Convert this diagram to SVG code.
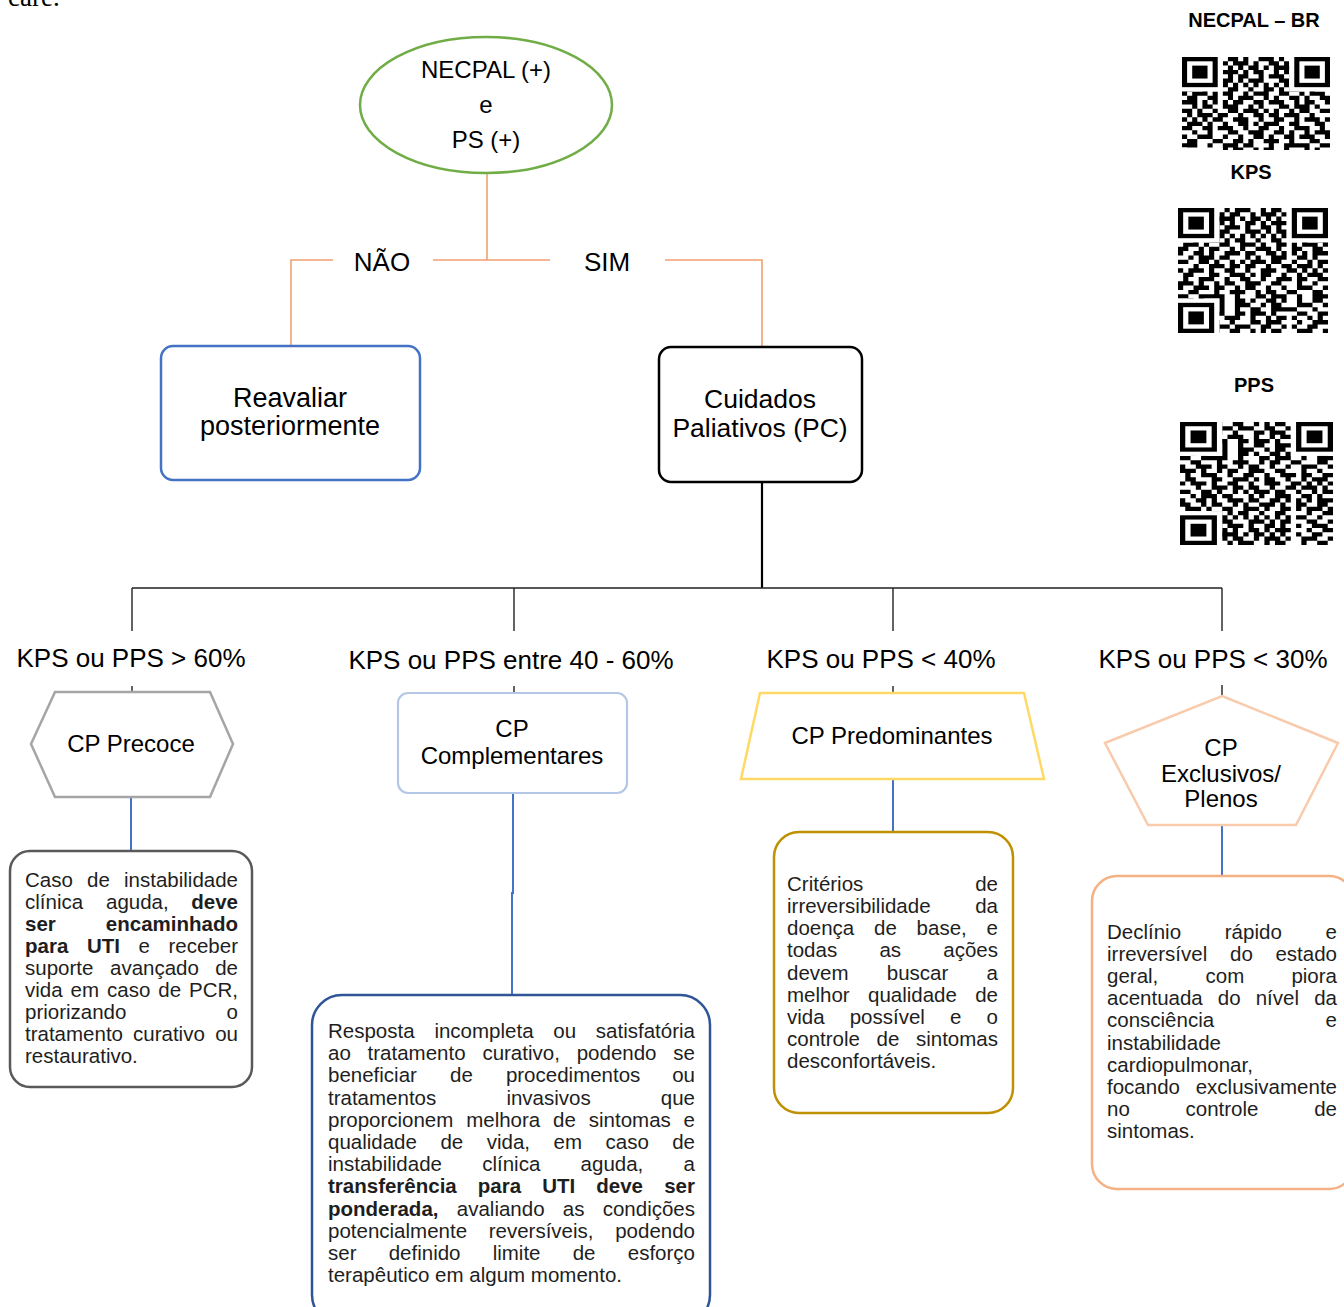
<svg xmlns="http://www.w3.org/2000/svg" xmlns:xlink="http://www.w3.org/1999/xlink" width="1344" height="1307" viewBox="0 0 1344 1307">
<style>
.t{font-family:"Liberation Sans",Arial,sans-serif;fill:#000}
.lbl{font-size:26px;text-anchor:middle}
.nd{font-size:24px;text-anchor:middle}
.big{font-size:27px;text-anchor:middle}
.qt{font-size:20px;font-weight:bold;text-anchor:middle}
.body{font-size:20.5px;fill:#1e1e1e}
.b{font-weight:bold}
.e{text-anchor:end}
.or{fill:none;stroke:#f2a070;stroke-width:1.6}
.bl{fill:none;stroke:#4472c4;stroke-width:2}
.bk{fill:none;stroke:#222;stroke-width:1.4}
</style>
<defs>
<g id="qrd"><path fill="none" stroke="#000" stroke-width="1" d="M9 .5h2M12 .5h1M15 .5h3M19 .5h1M1 .5h2M5 .5h1M22 .5h2M26 .5h2
M8 1.5h1M10 1.5h3M14 1.5h1M17 1.5h2M20 1.5h1M0 1.5h1M3 1.5h3M23 1.5h1M25 1.5h3
M9 2.5h1M11 2.5h1M13 2.5h2M16 2.5h1M18 2.5h3M2 2.5h2M6 2.5h1M21 2.5h3M27 2.5h1
M8 3.5h3M12 3.5h1M14 3.5h2M18 3.5h1M20 3.5h1M0 3.5h2M4 3.5h1M22 3.5h1M24 3.5h2M28 3.5h1
M9 4.5h1M11 4.5h2M15 4.5h1M17 4.5h3M1 4.5h3M6 4.5h1M21 4.5h1M23 4.5h3
M8 5.5h2M11 5.5h1M13 5.5h3M19 5.5h2M0 5.5h1M3 5.5h2M22 5.5h2M26 5.5h1
M8 6.5h1M10 6.5h1M12 6.5h1M14 6.5h1M16 6.5h1M18 6.5h1M20 6.5h1M2 6.5h1M5 6.5h2M24 6.5h2M28 6.5h1
M9 7.5h2M13 7.5h1M16 7.5h2M19 7.5h1M0 7.5h2M4 7.5h1M21 7.5h2M25 7.5h1
M0 8.5h1M2 8.5h3M6 8.5h1M8 8.5h2M12 8.5h1M14 8.5h3M19 8.5h2M23 8.5h1M25 8.5h3
M1 9.5h2M5 9.5h2M9 9.5h1M11 9.5h3M16 9.5h1M18 9.5h1M21 9.5h2M24 9.5h1M27 9.5h2
M0 10.5h3M4 10.5h1M6 10.5h1M8 10.5h1M10 10.5h2M14 10.5h2M17 10.5h3M22 10.5h1M24 10.5h2M28 10.5h1
M2 11.5h1M4 11.5h2M8 11.5h3M13 11.5h1M15 11.5h1M19 11.5h2M22 11.5h3M26 11.5h1
M0 12.5h2M3 12.5h1M6 12.5h1M9 12.5h2M12 12.5h3M16 12.5h1M18 12.5h1M21 12.5h1M23 12.5h2M27 12.5h2
M1 13.5h1M3 13.5h3M7 13.5h2M11 13.5h1M14 13.5h2M17 13.5h2M20 13.5h3M25 13.5h1
M0 14.5h1M2 14.5h1M4 14.5h1M6 14.5h2M10 14.5h3M15 14.5h1M18 14.5h2M22 14.5h1M24 14.5h3M28 14.5h1
M1 15.5h3M5 15.5h1M8 15.5h1M11 15.5h2M14 15.5h1M16 15.5h3M21 15.5h2M26 15.5h2
M0 16.5h2M4 16.5h2M7 16.5h3M12 16.5h1M15 16.5h2M19 16.5h1M22 16.5h3M27 16.5h1
M2 17.5h1M5 17.5h1M9 17.5h2M13 17.5h3M18 17.5h2M21 17.5h1M24 17.5h1M26 17.5h3
M0 18.5h1M3 18.5h3M8 18.5h1M11 18.5h1M14 18.5h2M17 18.5h1M20 18.5h2M23 18.5h3M28 18.5h1
M1 19.5h2M6 19.5h2M10 19.5h2M13 19.5h1M16 19.5h3M21 19.5h1M25 19.5h2
M0 20.5h3M5 20.5h1M8 20.5h3M12 20.5h2M17 20.5h1M20 20.5h5M27 20.5h2
M8 21.5h1M10 21.5h2M14 21.5h1M16 21.5h2M20 21.5h1M24 21.5h1M26 21.5h1M1 21.5h2M5 21.5h1
M9 22.5h2M12 22.5h1M15 22.5h3M20 22.5h1M22 22.5h1M24 22.5h1M27 22.5h2M0 22.5h1M3 22.5h3
M8 23.5h3M13 23.5h2M17 23.5h1M20 23.5h1M24 23.5h1M26 23.5h1M2 23.5h1M6 23.5h2
M10 24.5h1M12 24.5h3M16 24.5h2M20 24.5h5M27 24.5h1M0 24.5h2M4 24.5h2
M8 25.5h2M11 25.5h1M14 25.5h1M17 25.5h3M22 25.5h2M25 25.5h3M1 25.5h1M3 25.5h1M6 25.5h1
M9 26.5h3M13 26.5h2M18 26.5h1M21 26.5h1M24 26.5h1M28 26.5h1M0 26.5h3M5 26.5h1
M8 27.5h1M11 27.5h2M15 27.5h3M19 27.5h2M23 27.5h3M2 27.5h2M6 27.5h1
M9 28.5h2M12 28.5h1M14 28.5h1M17 28.5h2M21 28.5h1M24 28.5h2M27 28.5h2M0 28.5h1M3 28.5h3"/></g>
<g id="qrf">
<rect x="0" y="0" width="8" height="8" fill="#fff"/><rect x="21" y="0" width="8" height="8" fill="#fff"/><rect x="0" y="21" width="8" height="8" fill="#fff"/>
<g fill="none" stroke="#000" stroke-width="1"><rect x=".5" y=".5" width="6" height="6"/><rect x="22.5" y=".5" width="6" height="6"/><rect x=".5" y="22.5" width="6" height="6"/></g>
<rect x="2" y="2" width="3" height="3"/><rect x="24" y="2" width="3" height="3"/><rect x="2" y="24" width="3" height="3"/>
</g>
</defs>
<rect width="1344" height="1307" fill="#fff"/>
<text x="8" y="6" font-family="Liberation Serif,Times New Roman,serif" font-size="27" fill="#000">care.</text>

<g id="qr-codes">
<text class="t qt" x="1254" y="27">NECPAL – BR</text>
<svg x="1182" y="57" width="148" height="93" viewBox="0 0 29 21.58" preserveAspectRatio="none"><use href="#qrd"/><use href="#qrf"/></svg>
<text class="t qt" x="1251" y="179">KPS</text>
<svg x="1178" y="208" width="150" height="125" viewBox="0 0 29 29" preserveAspectRatio="none"><use href="#qrd" transform="translate(29 0) scale(-1 1)"/><use href="#qrf"/></svg>
<text class="t qt" x="1254" y="392">PPS</text>
<svg x="1180" y="422" width="153" height="123" viewBox="0 0 29 29" preserveAspectRatio="none"><use href="#qrd" transform="rotate(180 14.5 14.5)"/><use href="#qrf"/></svg>
</g>

<g id="connectors">
<path class="or" d="M487 173V260M433 260H550M665 260H762V347M333 260H291V345"/>
<path d="M762 482V588" stroke="#000" stroke-width="2.2" fill="none"/>
<path class="bk" d="M132 588H1222M132 588V631M514 588V631M893 588V631M1222 588V631M132 686V692M514 686V692M893 686V692M1222 685V697"/>
<path class="bl" d="M131 797V851M513 793V893H512V995M893 779V832M1222 825V877"/>
<text class="t lbl" x="382" y="271">NÃO</text>
<text class="t lbl" x="607" y="271">SIM</text>
<text class="t lbl" x="131" y="667">KPS ou PPS &gt; 60%</text>
<text class="t lbl" x="511" y="669">KPS ou PPS entre 40 - 60%</text>
<text class="t lbl" x="881" y="668">KPS ou PPS &lt; 40%</text>
<text class="t lbl" x="1213" y="668">KPS ou PPS &lt; 30%</text>
</g>

<g id="node-necpal">
<ellipse cx="486" cy="105" rx="126" ry="68" fill="#fff" stroke="#70ad47" stroke-width="2.5"/>
<text class="t nd" x="486" y="78">NECPAL (+)</text>
<text class="t nd" x="486" y="113">e</text>
<text class="t nd" x="486" y="148">PS (+)</text>
</g>

<g id="node-reavaliar">
<rect x="161" y="346" width="259" height="134" rx="12" fill="#fff" stroke="#4472c4" stroke-width="2.5"/>
<text class="t big" x="290" y="407">Reavaliar</text>
<text class="t big" x="290" y="435">posteriormente</text>
</g>

<g id="node-cuidados">
<rect x="659" y="347" width="203" height="135" rx="12" fill="#fff" stroke="#000" stroke-width="2.5"/>
<text class="t big" x="760" y="408" style="font-size:26.5px">Cuidados</text>
<text class="t big" x="760" y="437" style="font-size:26.5px">Paliativos (PC)</text>
</g>

<g id="node-precoce">
<polygon points="31,744 55,692 210,692 233,744 210,797 55,797" fill="#fff" stroke="#a5a5a5" stroke-width="2.5"/>
<text class="t nd" x="131" y="752">CP Precoce</text>
</g>

<g id="node-complementares">
<rect x="398" y="693" width="229" height="100" rx="10" fill="#fff" stroke="#b4c7e7" stroke-width="2.2"/>
<text class="t nd" x="512" y="737">CP</text>
<text class="t nd" x="512" y="764">Complementares</text>
</g>

<g id="node-predominantes">
<polygon points="760,693 1024,693 1044,779 741,779" fill="#fff" stroke="#ffd966" stroke-width="2.5"/>
<text class="t nd" x="892" y="744">CP Predominantes</text>
</g>

<g id="node-exclusivos">
<polygon points="1222,696 1338,743 1296,825 1148,825 1105,743" fill="#fff" stroke="#f8cbad" stroke-width="2.5"/>
<text class="t nd" x="1221" y="756">CP</text>
<text class="t nd" x="1221" y="782">Exclusivos/</text>
<text class="t nd" x="1221" y="807">Plenos</text>
</g>

<g id="node-desc-precoce">
<rect x="10" y="851" width="242" height="236" rx="20" fill="#fff" stroke="#595959" stroke-width="2.5"/>
<g class="t body">
<text y="887"><tspan x="25">Caso</tspan><tspan x="87">de</tspan><tspan x="238" class="e">instabilidade</tspan></text>
<text y="909"><tspan x="25">clínica</tspan><tspan x="106">aguda,</tspan><tspan x="238" class="e b">deve</tspan></text>
<text y="931" class="b"><tspan x="25">ser</tspan><tspan x="238" class="e">encaminhado</tspan></text>
<text y="953"><tspan x="25" class="b">para</tspan><tspan x="87" class="b">UTI</tspan><tspan x="138.5">e</tspan><tspan x="238" class="e">receber</tspan></text>
<text y="975"><tspan x="25">suporte</tspan><tspan x="110">avançado</tspan><tspan x="238" class="e">de</tspan></text>
<text y="997"><tspan x="25">vida</tspan><tspan x="70.5">em</tspan><tspan x="107">caso</tspan><tspan x="158.3">de</tspan><tspan x="238" class="e">PCR,</tspan></text>
<text y="1019"><tspan x="25">priorizando</tspan><tspan x="238" class="e">o</tspan></text>
<text y="1041"><tspan x="25">tratamento</tspan><tspan x="133">curativo</tspan><tspan x="238" class="e">ou</tspan></text>
<text y="1063" x="25">restaurativo.</text>
</g>
</g>

<g id="node-desc-complementares">
<rect x="312" y="995" width="398" height="330" rx="30" fill="#fff" stroke="#2f5597" stroke-width="2.5"/>
<g class="t body">
<text y="1038"><tspan x="328">Resposta</tspan><tspan x="434.4">incompleta</tspan><tspan x="553.3">ou</tspan><tspan x="695" class="e">satisfatória</tspan></text>
<text y="1060.2"><tspan x="328">ao</tspan><tspan x="367.6">tratamento</tspan><tspan x="482.4">curativo,</tspan><tspan x="576.7">podendo</tspan><tspan x="695" class="e">se</tspan></text>
<text y="1082.4"><tspan x="328">beneficiar</tspan><tspan x="450">de</tspan><tspan x="505.9">procedimentos</tspan><tspan x="695" class="e">ou</tspan></text>
<text y="1104.5"><tspan x="328">tratamentos</tspan><tspan x="506.4">invasivos</tspan><tspan x="695" class="e">que</tspan></text>
<text y="1126.7"><tspan x="328">proporcionem</tspan><tspan x="466.2">melhora</tspan><tspan x="553.1">de</tspan><tspan x="588.8">sintomas</tspan><tspan x="695" class="e">e</tspan></text>
<text y="1148.9"><tspan x="328">qualidade</tspan><tspan x="440.4">de</tspan><tspan x="486.7">vida,</tspan><tspan x="553.5">em</tspan><tspan x="605.5">caso</tspan><tspan x="695" class="e">de</tspan></text>
<text y="1171.1"><tspan x="328">instabilidade</tspan><tspan x="482.2">clínica</tspan><tspan x="580.6">aguda,</tspan><tspan x="695" class="e">a</tspan></text>
<text y="1193.3" class="b"><tspan x="328">transferência</tspan><tspan x="477.8">para</tspan><tspan x="542.2">UTI</tspan><tspan x="596.3">deve</tspan><tspan x="695" class="e">ser</tspan></text>
<text y="1215.5"><tspan x="328" class="b">ponderada,</tspan><tspan x="456.8">avaliando</tspan><tspan x="562.8">as</tspan><tspan x="695" class="e">condições</tspan></text>
<text y="1237.6"><tspan x="328">potencialmente</tspan><tspan x="488.7">reversíveis,</tspan><tspan x="695" class="e">podendo</tspan></text>
<text y="1259.8"><tspan x="328">ser</tspan><tspan x="388.7">definido</tspan><tspan x="492.7">limite</tspan><tspan x="572.7">de</tspan><tspan x="695" class="e">esforço</tspan></text>
<text y="1282" x="328">terapêutico em algum momento.</text>
</g>
</g>

<g id="node-desc-predominantes">
<rect x="774" y="832" width="239" height="281" rx="25" fill="#fff" stroke="#bf9000" stroke-width="2.5"/>
<g class="t body">
<text y="891"><tspan x="787">Critérios</tspan><tspan x="998" class="e">de</tspan></text>
<text y="913.1"><tspan x="787">irreversibilidade</tspan><tspan x="998" class="e">da</tspan></text>
<text y="935.3"><tspan x="787">doença</tspan><tspan x="874">de</tspan><tspan x="916.6">base,</tspan><tspan x="998" class="e">e</tspan></text>
<text y="957.4"><tspan x="787">todas</tspan><tspan x="879.4">as</tspan><tspan x="998" class="e">ações</tspan></text>
<text y="979.5"><tspan x="787">devem</tspan><tspan x="886.8">buscar</tspan><tspan x="998" class="e">a</tspan></text>
<text y="1001.6"><tspan x="787">melhor</tspan><tspan x="868">qualidade</tspan><tspan x="998" class="e">de</tspan></text>
<text y="1023.8"><tspan x="787">vida</tspan><tspan x="849.7">possível</tspan><tspan x="950">e</tspan><tspan x="998" class="e">o</tspan></text>
<text y="1045.9"><tspan x="787">controle</tspan><tspan x="876.6">de</tspan><tspan x="998" class="e">sintomas</tspan></text>
<text y="1068" x="787">desconfortáveis.</text>
</g>
</g>

<g id="node-desc-exclusivos">
<rect x="1092" y="876" width="262" height="313" rx="25" fill="#fff" stroke="#f4b183" stroke-width="2.5"/>
<g class="t body">
<text y="939"><tspan x="1107">Declínio</tspan><tspan x="1224.8">rápido</tspan><tspan x="1337" class="e">e</tspan></text>
<text y="961.1"><tspan x="1107">irreversível</tspan><tspan x="1230">do</tspan><tspan x="1337" class="e">estado</tspan></text>
<text y="983.2"><tspan x="1107">geral,</tspan><tspan x="1205.5">com</tspan><tspan x="1337" class="e">piora</tspan></text>
<text y="1005.3"><tspan x="1107">acentuada</tspan><tspan x="1217.8">do</tspan><tspan x="1255.7">nível</tspan><tspan x="1337" class="e">da</tspan></text>
<text y="1027.4"><tspan x="1107">consciência</tspan><tspan x="1337" class="e">e</tspan></text>
<text y="1049.6" x="1107">instabilidade</text>
<text y="1071.7" x="1107">cardiopulmonar,</text>
<text y="1093.8"><tspan x="1107">focando</tspan><tspan x="1337" class="e">exclusivamente</tspan></text>
<text y="1115.9"><tspan x="1107">no</tspan><tspan x="1185.5">controle</tspan><tspan x="1337" class="e">de</tspan></text>
<text y="1138" x="1107">sintomas.</text>
</g>
</g>
</svg>
